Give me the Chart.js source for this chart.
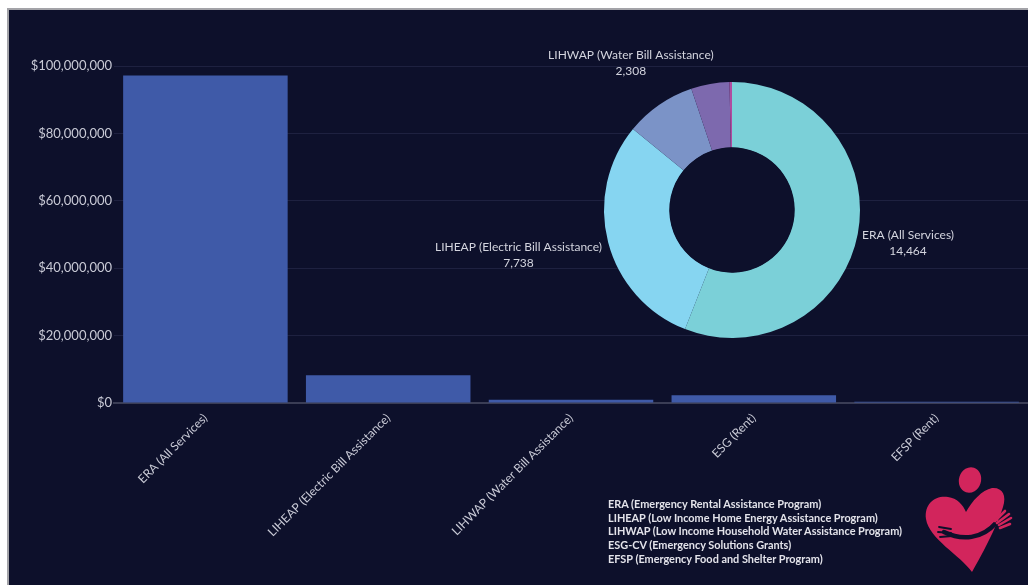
<!DOCTYPE html>
<html>
<head>
<meta charset="utf-8">
<script src="https://cdn.jsdelivr.net/npm/chart.js@4.4.0/dist/chart.umd.min.js"></script>
<style>
  html, body { margin: 0; padding: 0; background: #ffffff; width: 1028px; height: 585px; overflow: hidden; }
  #panel { position: absolute; left: 7px; top: 8px; width: 1021px; height: 577px; background: #0d102b;
           border-top: 2px solid #a3a3a8; border-left: 2px solid #a3a3a8; box-sizing: border-box; }
  #barCanvas { position: absolute; left: 9px; top: 10px; }
  #donutCanvas { position: absolute; left: 420px; top: 40px; }
  #notes { position: absolute; left: 608px; top: 497px; color: #e3e3ea; font-family: Lato, sans-serif;
           font-weight: 700; font-size: 10.9px; line-height: 13.7px; white-space: nowrap; }
  #logo { position: absolute; left: 920px; top: 455px; }
</style>
</head>
<body>
<div id="panel"></div>
<canvas id="barCanvas" width="1019" height="575"></canvas>
<canvas id="donutCanvas" width="608" height="340"></canvas>
<div id="notes">
  ERA (Emergency Rental Assistance Program)<br>
  LIHEAP (Low Income Home Energy Assistance Program)<br>
  LIHWAP (Low Income Household Water Assistance Program)<br>
  ESG-CV (Emergency Solutions Grants)<br>
  EFSP (Emergency Food and Shelter Program)
</div>
<svg id="logo" width="108" height="130" viewBox="0 0 108 130">
  <ellipse cx="50" cy="25" rx="11" ry="13" transform="rotate(18 50 25)" fill="#d2255c"/>
  <path d="M52,117 C40,100 9,84 6,64 C4,48 16,40 28,42 C37,43 43,50 46,57 C52,46 62,35 72,33 C82,32 87,40 83,52 C80,62 69,88 52,117 Z" fill="#d2255c"/>
  <path d="M24,77 C42,86 62,84 76,68" stroke="#0d102b" stroke-width="4.5" fill="none" stroke-linecap="round"/>
  <path d="M19,72 L31,74 M18,77 L31,78 M20,82 L32,81" stroke="#0d102b" stroke-width="1.8" stroke-linecap="round"/>
  <path d="M75,66 L85,56 M77,68 L89,59 M79,70 L91,63 M80,73 L90,69" stroke="#d2255c" stroke-width="2.6" stroke-linecap="round"/>
</svg>
<script>
// ---- data ----
const categories = ['ERA (All Services)', 'LIHEAP (Electric Bill Assistance)', 'LIHWAP (Water Bill Assistance)', 'ESG (Rent)', 'EFSP (Rent)'];
const fundingDollars = [97200000, 8200000, 1000000, 2300000, 400000];
const yTickValues = [0, 20000000, 40000000, 60000000, 80000000, 100000000];

const donutCategories = ['ERA (All Services)', 'LIHEAP (Electric Bill Assistance)', 'LIHWAP (Water Bill Assistance)', 'ESG (Rent)', 'EFSP (Rent)'];
const householdsServed = [14464, 7738, 2308, 1250, 80];
const donutColors = ['#7bd0d8', '#86d5f1', '#7b93c7', '#7d69ae', '#b04ca0'];

const BG = '#0d102b';
const FONT = 'Lato, "Open Sans", sans-serif';

// ---- bar chart ----
new Chart(document.getElementById('barCanvas'), {
  type: 'bar',
  data: {
    labels: categories,
    datasets: [{ data: fundingDollars, backgroundColor: '#3f5aa8', borderWidth: 0,
                 barPercentage: 1, categoryPercentage: 0.9 }]
  },
  options: {
    responsive: false, animation: false,
    layout: { padding: { top: 56, right: 0, left: 0, bottom: 0 } },
    plugins: { legend: { display: false }, tooltip: { enabled: false } },
    scales: {
      x: {
        grid: { display: false, drawTicks: false },
        border: { color: '#3a3d55', width: 2 },
        ticks: { color: '#c9cad6', font: { family: FONT, size: 12 }, minRotation: 45, maxRotation: 45, padding: 8 },
        afterFit: s => { s.height = 182; }
      },
      y: {
        min: 0, max: 100000000,
        afterBuildTicks: s => { s.ticks = yTickValues.map(v => ({ value: v })); },
        grid: { color: '#1e2140', lineWidth: 1, drawTicks: false },
        border: { display: false },
        ticks: { color: '#c9cad6', font: { family: FONT, size: 13 }, padding: 2,
                 callback: v => '$' + Number(v).toLocaleString('en-US') },
        afterFit: s => { s.width = 105; }
      }
    }
  }
});

// ---- doughnut chart ----
const holeFill = {
  id: 'holeFill',
  afterDatasetsDraw(chart) {
    const arc = chart.getDatasetMeta(0).data[0];
    if (!arc) return;
    const ctx = chart.ctx;
    ctx.save();
    ctx.fillStyle = BG;
    ctx.beginPath();
    ctx.arc(arc.x, arc.y, arc.innerRadius - 0.5, 0, Math.PI * 2);
    ctx.fill();
    ctx.restore();
  }
};
const outsideLabels = {
  id: 'outsideLabels',
  afterDraw(chart) {
    const ctx = chart.ctx;
    const data = chart.data.datasets[0].data;
    const total = data.reduce((a, b) => a + b, 0);
    chart.getDatasetMeta(0).data.forEach((arc, i) => {
      if (data[i] / total < 0.05) return;
      const mid = (arc.startAngle + arc.endAngle) / 2;
      const dx = Math.cos(mid), dy = Math.sin(mid);
      const R = arc.outerRadius;
      const name = chart.data.labels[i];
      const val = data[i].toLocaleString('en-US');
      ctx.save();
      ctx.font = '12px ' + FONT;
      ctx.fillStyle = '#d3d4de';
      ctx.textBaseline = 'middle';
      ctx.textAlign = 'center';
      const w = ctx.measureText(name).width;
      let cx, cy = arc.y + dy * (R + 50);
      if (Math.abs(dy) > 0.7) {
        cx = arc.x + dx * (R + 50);
      } else if (dx > 0) {
        cx = arc.x + R + 2 + w / 2;
      } else {
        cx = arc.x - R - 2 - w / 2;
      }
      ctx.fillText(name, cx, cy - 8);
      ctx.fillText(val, cx, cy + 8);
      ctx.restore();
    });
  }
};
new Chart(document.getElementById('donutCanvas'), {
  type: 'doughnut',
  data: {
    labels: donutCategories,
    datasets: [{ data: householdsServed, backgroundColor: donutColors, borderWidth: 0 }]
  },
  options: {
    responsive: false, animation: false, cutout: '49%',
    layout: { padding: { left: 16, right: 0, top: 42, bottom: 42 } },
    plugins: { legend: { display: false }, tooltip: { enabled: false } }
  },
  plugins: [holeFill, outsideLabels]
});
</script>
</body>
</html>
